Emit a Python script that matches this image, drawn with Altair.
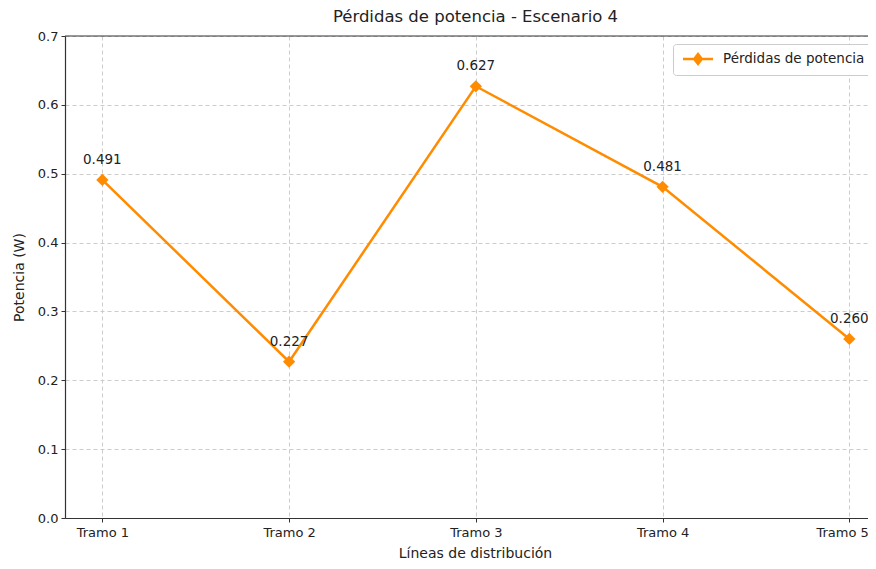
import altair as alt
import pandas as pd

tramos = ["Tramo 1", "Tramo 2", "Tramo 3", "Tramo 4", "Tramo 5"]
perdidas = [0.491, 0.227, 0.627, 0.481, 0.260]
serie = "Pérdidas de potencia"

df = pd.DataFrame({
    "idx": list(range(len(tramos))),
    "tramo": tramos,
    "valor": perdidas,
    "serie": [serie] * len(tramos),
    "etiqueta": [f"{v:.3f}" for v in perdidas],
})

ORANGE = "#FF8C00"
FONT = "DejaVu Sans"
label_expr = "[" + ",".join(f"'{t}'" for t in tramos) + "][datum.value]"

x_enc = alt.X(
    "idx:Q",
    scale=alt.Scale(domain=[-0.2, 4.1], nice=False, zero=False),
    axis=alt.Axis(
        values=list(range(len(tramos))),
        labelExpr=label_expr,
        title="Líneas de distribución",
        titleX=410,
        grid=True,
        gridDash=[4, 3],
        gridColor="#cccccc",
        tickSize=4,
        labelPadding=4,
        titlePadding=7,
        labelFlush=20,
        labelFlushOffset=19,
    ),
)
y_enc = alt.Y(
    "valor:Q",
    scale=alt.Scale(domain=[0, 0.7], nice=False),
    axis=alt.Axis(
        values=[0, 0.1, 0.2, 0.3, 0.4, 0.5, 0.6, 0.7],
        format=".1f",
        title="Potencia (W)",
        grid=True,
        gridDash=[4, 3],
        gridColor="#cccccc",
        tickSize=4,
        labelPadding=3,
        titlePadding=11,
    ),
)

legend_path = "M-2,0H2M0,-0.65L0.5,0L0,0.65L-0.5,0Z"
color_enc = alt.Color(
    "serie:N",
    scale=alt.Scale(domain=[serie], range=[ORANGE]),
    legend=alt.Legend(
        title=None,
        orient="none",
        legendX=608,
        legendY=8,
        symbolType=legend_path,
        symbolSize=225,
        symbolStrokeWidth=2.5,
        symbolStrokeColor=ORANGE,
        symbolFillColor=ORANGE,
        labelFontSize=13.5,
        labelFont=FONT,
        labelColor="#222222",
        labelOffset=16,
        padding=6,
        strokeColor="#cccccc",
        fillColor="white",
        cornerRadius=3,
        symbolOffset=10,
    ),
)

base = alt.Chart(df)

line = base.mark_line(strokeWidth=2.5).encode(x=x_enc, y=y_enc, color=color_enc)
points = base.mark_point(shape="diamond", filled=True, size=150, opacity=1).encode(
    x="idx:Q", y="valor:Q", color=alt.Color("serie:N", legend=None,
                                            scale=alt.Scale(domain=[serie], range=[ORANGE]))
)
labels = base.mark_text(dy=-20, fontSize=13.5, font=FONT, color="#222222").encode(
    x="idx:Q", y="valor:Q", text="etiqueta:N"
)
top_rule = alt.Chart(pd.DataFrame({"ymax": [0.7]})).mark_rule(
    color="#333333", strokeWidth=1.2
).encode(y="ymax:Q")

chart = (
    alt.layer(line, points, labels, top_rule)
    .properties(
        width=803,
        height=482,
        title=alt.TitleParams(
            "Pérdidas de potencia - Escenario 4",
            fontSize=16.5,
            font=FONT,
            fontWeight="normal",
            color="#222222",
            offset=5,
            dx=9,
            anchor="middle",
        ),
        autosize=alt.AutoSizeParams(type="none"),
        padding={"left": 57, "top": 28, "right": 0, "bottom": 50},
    )
    .configure_view(stroke=None)
    .configure_axis(
        labelFont=FONT,
        titleFont=FONT,
        labelFontSize=13,
        titleFontSize=14,
        titleFontWeight="normal",
        labelColor="#222222",
        titleColor="#222222",
        domainColor="#333333",
        tickColor="#333333",
        domainWidth=1.2,
    )
)

chart.save("out.html", embed_options={"renderer": "svg", "actions": False})
